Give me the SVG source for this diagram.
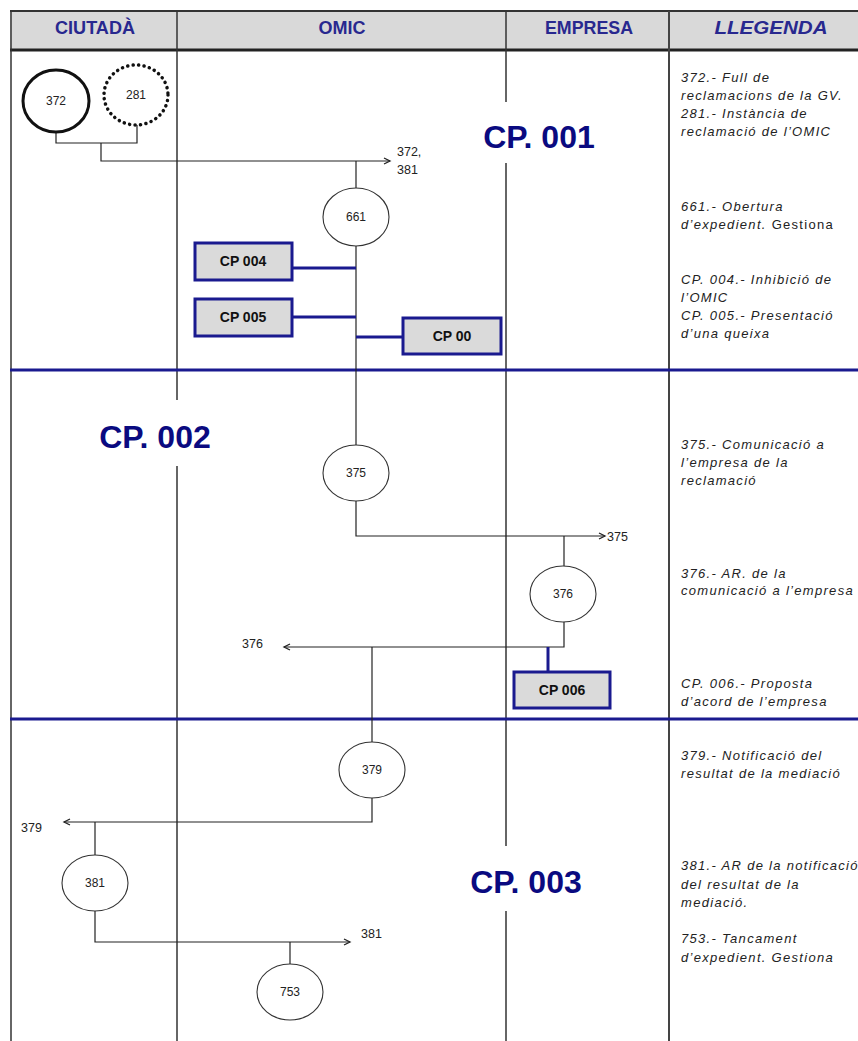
<svg xmlns="http://www.w3.org/2000/svg" width="858" height="1041" viewBox="0 0 858 1041">
<style>
.hdr{font-family:"Liberation Sans",Arial,sans-serif;font-weight:bold;font-size:18px;fill:#28288f;text-anchor:middle}
.col{stroke:#333;stroke-width:1.5;fill:none}
.blue{stroke:#1a1a8f;stroke-width:3;fill:none}
.ln{stroke:#222;stroke-width:1.2;fill:none}
.bl{stroke:#1a1a8f;stroke-width:3;fill:none}
.circ{fill:#fff;stroke:#333;stroke-width:1.1}
.ct{font-family:"Liberation Sans",Arial,sans-serif;font-size:12px;fill:#222;text-anchor:middle}
.lbl{font-family:"Liberation Sans",Arial,sans-serif;font-size:12.5px;fill:#222}
.box{fill:#dadada;stroke:#1a1a8f;stroke-width:3}
.bt{font-family:"Liberation Sans",Arial,sans-serif;font-weight:bold;font-size:14px;fill:#111;text-anchor:middle}
.cp{font-family:"Liberation Sans",Arial,sans-serif;font-weight:bold;font-size:32px;fill:#0a0a80;text-anchor:middle}
.lg{font-family:"Liberation Sans",Arial,sans-serif;font-style:italic;font-size:13px;fill:#222;letter-spacing:1.3px}
</style>
<defs>
<marker id="arr" markerUnits="userSpaceOnUse" markerWidth="10" markerHeight="10" refX="7" refY="4" orient="auto">
<path d="M1,1 L7,4 L1,7" fill="none" stroke="#222" stroke-width="1.3"/>
</marker>
</defs>
<rect width="858" height="1041" fill="#fff"/>
<g id="grid">
<rect x="10" y="11" width="848" height="39" fill="#d9d9d9"/>
<line x1="10" y1="11" x2="858" y2="11" stroke="#333" stroke-width="2"/>
<line x1="10" y1="50" x2="858" y2="50" stroke="#222" stroke-width="3"/>
<line x1="11" y1="11" x2="11" y2="1041" class="col" stroke-width="2"/>
<line x1="177" y1="11" x2="177" y2="400" class="col"/>
<line x1="177" y1="466" x2="177" y2="1041" class="col"/>
<line x1="506" y1="11" x2="506" y2="102" class="col"/>
<line x1="506" y1="163" x2="506" y2="846" class="col"/>
<line x1="506" y1="911" x2="506" y2="1041" class="col"/>
<line x1="669" y1="11" x2="669" y2="1041" stroke="#444" stroke-width="2"/>
<line x1="10" y1="370" x2="858" y2="370" class="blue"/>
<line x1="10" y1="719" x2="858" y2="719" class="blue"/>
<text x="95" y="34" class="hdr" textLength="80" lengthAdjust="spacingAndGlyphs">CIUTADÀ</text>
<text x="342" y="34" class="hdr" textLength="47" lengthAdjust="spacingAndGlyphs">OMIC</text>
<text x="589" y="34" class="hdr" textLength="88" lengthAdjust="spacingAndGlyphs">EMPRESA</text>
<text x="771" y="34" class="hdr" font-style="italic" textLength="113" lengthAdjust="spacingAndGlyphs">LLEGENDA</text>
<text x="539" y="148" class="cp">CP. 001</text>
<text x="155" y="448" class="cp">CP. 002</text>
<text x="526" y="893" class="cp">CP. 003</text>
</g>
<g id="connectors">
<path class="ln" d="M56,132 V143 H137 V125"/>
<path class="ln" d="M101,143 V161 H390" marker-end="url(#arr)"/>
<path class="ln" d="M356,161 V189"/>
<path class="ln" d="M356,246 V445"/>
<path class="bl" d="M292,268 H356"/>
<path class="bl" d="M292,317 H356"/>
<path class="bl" d="M356,337 H403"/>
<path class="ln" d="M356,501 V536 H605" marker-end="url(#arr)"/>
<path class="ln" d="M564,536 V566"/>
<path class="ln" d="M564,622 V647 H284" marker-end="url(#arr)"/>
<path class="bl" d="M548,647 V672"/>
<path class="ln" d="M372,647 V742"/>
<path class="ln" d="M372,798 V822 H64" marker-end="url(#arr)"/>
<path class="ln" d="M95,822 V855"/>
<path class="ln" d="M95,911 V942 H350" marker-end="url(#arr)"/>
<path class="ln" d="M290,942 V964"/>
<text x="397" y="156" class="lbl">372,</text>
<text x="397" y="174" class="lbl">381</text>
<text x="607" y="541" class="lbl">375</text>
<text x="242" y="648" class="lbl">376</text>
<text x="21" y="832" class="lbl">379</text>
<text x="361" y="938" class="lbl">381</text>
</g>
<g id="n372"><ellipse cx="56" cy="101" rx="33" ry="31" fill="#fff" stroke="#111" stroke-width="3"/><text x="56" y="105" class="ct">372</text></g>
<g id="n281"><ellipse cx="136" cy="95" rx="32" ry="30" fill="#fff" stroke="#111" stroke-width="3.5" stroke-dasharray="0.1 5.4" stroke-linecap="round"/><text x="136" y="99" class="ct">281</text></g>
<g id="n661"><ellipse cx="356" cy="217" rx="33" ry="29" class="circ"/><text x="356" y="221" class="ct">661</text></g>
<g id="cp004"><rect x="195" y="243" width="97" height="37" class="box"/><text x="243" y="266" class="bt">CP 004</text></g>
<g id="cp005"><rect x="195" y="299" width="97" height="37" class="box"/><text x="243" y="322" class="bt">CP 005</text></g>
<g id="cp00"><rect x="403" y="318" width="98" height="36" class="box"/><text x="452" y="341" class="bt">CP 00</text></g>
<g id="n375"><ellipse cx="356" cy="473" rx="33" ry="28" class="circ"/><text x="356" y="477" class="ct">375</text></g>
<g id="n376"><ellipse cx="563" cy="594" rx="33" ry="28" class="circ"/><text x="563" y="598" class="ct">376</text></g>
<g id="cp006"><rect x="514" y="672" width="96" height="36" class="box"/><text x="562" y="695" class="bt">CP 006</text></g>
<g id="n379"><ellipse cx="372" cy="770" rx="33" ry="28" class="circ"/><text x="372" y="774" class="ct">379</text></g>
<g id="n381"><ellipse cx="95" cy="883" rx="33" ry="28" class="circ"/><text x="95" y="887" class="ct">381</text></g>
<g id="n753"><ellipse cx="290" cy="992" rx="33" ry="28" class="circ"/><text x="290" y="996" class="ct">753</text></g>
<g id="legend">
<text x="681" y="82" class="lg">372.- Full de</text>
<text x="681" y="100" class="lg">reclamacions de la GV.</text>
<text x="681" y="118" class="lg">281.- Instància de</text>
<text x="681" y="136" class="lg">reclamació de l’OMIC</text>
<text x="681" y="211" class="lg">661.- Obertura</text>
<text x="681" y="229" class="lg">d’expedient. <tspan font-style="normal">Gestiona</tspan></text>
<text x="681" y="284" class="lg">CP. 004.- Inhibició de</text>
<text x="681" y="302" class="lg">l’OMIC</text>
<text x="681" y="320" class="lg">CP. 005.- Presentació</text>
<text x="681" y="338" class="lg">d’una queixa</text>
<text x="681" y="449" class="lg">375.- Comunicació a</text>
<text x="681" y="467" class="lg">l’empresa de la</text>
<text x="681" y="485" class="lg">reclamació</text>
<text x="681" y="578" class="lg">376.- AR. de la</text>
<text x="681" y="595" class="lg">comunicació a l’empresa</text>
<text x="681" y="688" class="lg">CP. 006.- Proposta</text>
<text x="681" y="706" class="lg">d’acord de l’empresa</text>
<text x="681" y="760" class="lg">379.- Notificació del</text>
<text x="681" y="778" class="lg">resultat de la mediació</text>
<text x="681" y="870" class="lg">381.- AR de la notificació</text>
<text x="681" y="889" class="lg">del resultat de la</text>
<text x="681" y="907" class="lg">mediació.</text>
<text x="681" y="943" class="lg">753.- Tancament</text>
<text x="681" y="962" class="lg">d’expedient. Gestiona</text>
</g>
</svg>
